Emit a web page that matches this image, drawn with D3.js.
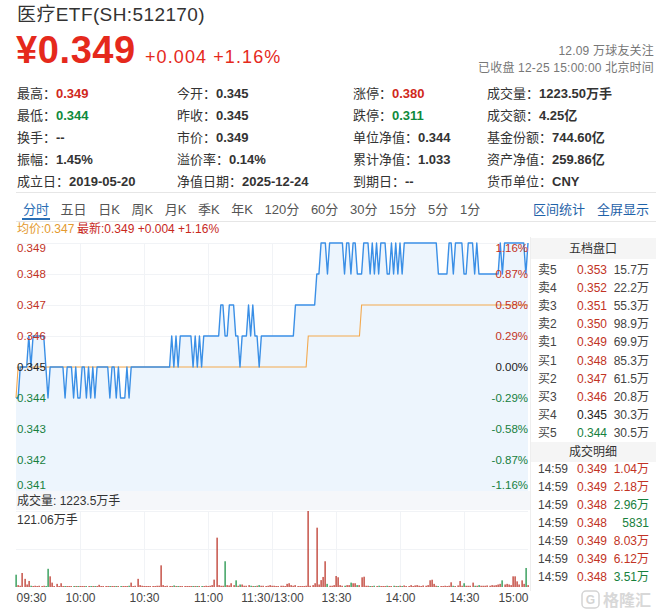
<!DOCTYPE html>
<html><head><meta charset="utf-8">
<script src="https://cdnjs.cloudflare.com/ajax/libs/d3/7.8.5/d3.min.js"></script>
<style>
body{margin:0;background:#fff;}
svg{display:block;font-family:"Liberation Sans","Noto Sans CJK SC",sans-serif;}
</style></head><body><svg id="c" width="656" height="615"></svg>
<script>
// ---------------- DATA ----------------
const prevClose = 0.345;
const prices = [
0.344,0.344,0.345,0.345,0.345,0.345,0.346,0.345,0.346,0.346,
0.346,0.346,0.346,0.346,0.345,0.344,0.345,0.345,0.345,0.345,
0.345,0.345,0.345,0.344,0.345,0.345,0.345,0.344,0.345,0.344,
0.344,0.345,0.345,0.344,0.345,0.344,0.345,0.344,0.345,0.345,
0.345,0.345,0.345,0.345,0.344,0.345,0.345,0.344,0.345,0.344,
0.344,0.344,0.345,0.344,0.345,0.345,0.345,0.345,0.345,0.345,
0.345,0.345,0.345,0.345,0.345,0.345,0.345,0.345,0.345,0.345,
0.345,0.345,0.345,0.346,0.345,0.346,0.345,0.346,0.346,0.346,
0.346,0.346,0.346,0.345,0.346,0.345,0.346,0.345,0.346,0.346,
0.346,0.346,0.346,0.346,0.346,0.346,0.347,0.347,0.346,0.346,
0.347,0.347,0.347,0.346,0.346,0.345,0.346,0.346,0.346,0.347,
0.346,0.347,0.346,0.346,0.345,0.346,0.346,0.346,0.346,0.346,
0.346,0.346,0.346,0.346,0.346,0.346,0.346,0.346,0.346,0.346,
0.346,0.347,0.347,0.347,0.347,0.347,0.347,0.347,0.347,0.347,
0.347,0.348,0.348,0.349,0.349,0.349,0.348,0.349,0.349,0.349,
0.349,0.349,0.349,0.349,0.348,0.349,0.349,0.348,0.349,0.349,
0.348,0.348,0.348,0.349,0.349,0.349,0.348,0.349,0.348,0.349,
0.348,0.349,0.349,0.349,0.348,0.348,0.349,0.348,0.349,0.348,
0.349,0.348,0.349,0.349,0.349,0.349,0.349,0.349,0.349,0.349,
0.349,0.349,0.349,0.349,0.349,0.349,0.349,0.349,0.348,0.348,
0.348,0.348,0.348,0.349,0.349,0.348,0.349,0.349,0.349,0.349,
0.348,0.348,0.349,0.349,0.349,0.348,0.349,0.348,0.348,0.348,
0.348,0.348,0.348,0.348,0.348,0.348,0.348,0.349,0.348,0.349,
0.349,0.349,0.349,0.349,0.349,0.349,0.349,0.349,0.349,0.348,
0.349];
// average price (displayed, rounded) as [minute, value] change points
const avgSteps = [[0,0.344],[1,0.345],[137,0.346],[162,0.347]];
// volume per minute, 万手
const volumes = [
19.6,3,2,22.3,13,4,9.6,2,1.5,2,
1.5,2,1.5,2,1.5,29,17,7,1.5,5,
1.5,6,1.5,1,1,1,1,1,1,1.5,
1,1,1,1,1,1.5,1,1,1,3.5,
1,1,1,1,1,1,1,1,1,1,
1,1,1.5,2,7,1.5,2,13,3,2,
1.5,1.5,1,1,1.5,1.5,2,2,34.5,3,
1.5,2,1.5,1,2.5,1,1,1,1,1,
1,1.5,1,1,1,1,1.5,1,1.5,2,
1.5,2,3,11.7,78.6,3,2,2,41,3,
2.5,6,3,10.6,2,4,4,2,2,3,
2,1.5,1.5,2,3,2,2,1.5,2,3,
2,2,1.5,1.5,2,2,1.5,5,6,3,
2,3,1.5,1.5,1.5,1.5,2,121.06,2,3,
6,94.5,4,11,16,41,5,2,2,3,
17.5,15.5,3,2,2,3,3,7,6,6,
3,3,15.4,16.4,2,2,1.5,1.5,2,1.5,
2,1.5,1.5,1.5,2,1.5,1.5,2,1.5,1.5,
2,1.5,2.5,1.5,1.5,3,1.5,2.5,3,2,
1.5,2.5,2,3,10.7,11.6,5,2,1.5,1.5,
1.5,2,1.5,2,7.5,2,1.5,2.5,9.5,2,
6,2,2,2,7,2,2,3,2,2,
2,2.5,2,3,2.5,3,4,5,10.6,4,
5,4,3,17,17,9,4,10.6,5,30.3,3];
const volMax = 121.06;
const volTotal = "1223.5万手";
const timeTicks = [0,30,60,90,120,150,180,210,240];
const timeLabels = ["09:30","10:00","10:30","11:00","11:30/13:00","13:30","14:00","14:30","15:00"];
const priceTicks = [0.349,0.348,0.347,0.346,0.345,0.344,0.343,0.342,0.341];

const infoLabels = [["最高","今开","涨停","成交量"],["最低","昨收","跌停","成交额"],["换手","市价","单位净值","基金份额"],["振幅","溢价率","累计净值","资产净值"],["成立日","净值日期","到期日","货币单位"]];
const infoValues = [["0.349","0.345","0.380","1223.50万手"],["0.344","0.345","0.311","4.25亿"],["--","0.349","0.344","744.60亿"],["1.45%","0.14%","1.033","259.86亿"],["2019-05-20","2025-12-24","--","CNY"]];
const infoTone = [["up","","up",""],["down","","down",""],["","","",""],["","","",""],["","","",""]];

const tabs = ["分时","五日","日K","周K","月K","季K","年K","120分","60分","30分","15分","5分","1分"];
const tabsRight = ["区间统计","全屏显示"];

const bookLabels = ["卖5","卖4","卖3","卖2","卖1","买1","买2","买3","买4","买5"];
const bookPrices = [0.353,0.352,0.351,0.350,0.349,0.348,0.347,0.346,0.345,0.344];
const bookVols = ["15.7万","22.2万","55.3万","98.9万","69.9万","85.3万","61.5万","20.8万","30.3万","30.5万"];

const tradeTimes = ["14:59","14:59","14:59","14:59","14:59","14:59","14:59"];
const tradePrices = [0.349,0.349,0.348,0.348,0.349,0.349,0.348];
const tradeVols = ["1.04万","2.18万","2.96万","5831","8.03万","6.12万","3.51万"];
const tradeSides = ["B","B","S","S","B","B","S"];

// ---------------- DRAW ----------------
const RED="#d0281c", GREEN="#0f8a3c", DARK="#333";
const svg = d3.select("#c");

// header
svg.append("text").attr("x",17).attr("y",21).attr("font-size",19).attr("letter-spacing",0.4).attr("fill",DARK).text("医疗ETF(SH:512170)");
svg.append("text").attr("x",16).attr("y",63).attr("font-size",38).attr("font-weight","bold").attr("letter-spacing",0.6).attr("fill","#e5291c").text("¥0.349");
svg.append("text").attr("x",145).attr("y",63).attr("font-size",18).attr("fill","#e5291c").attr("letter-spacing",1.1).text("+0.004 +1.16%");
svg.append("text").attr("x",654).attr("y",55).attr("text-anchor","end").attr("font-size",12).attr("letter-spacing",0.2).attr("fill","#777").text("12.09 万球友关注");
svg.append("text").attr("x",654).attr("y",72).attr("text-anchor","end").attr("font-size",12).attr("letter-spacing",0.2).attr("fill","#777").text("已收盘 12-25 15:00:00 北京时间");

// info grid
const colX=[17,177,353,487], rowY=[93,115,137,159,181];
infoLabels.forEach((row,r)=>row.forEach((lab,c)=>{
  const t=svg.append("text").attr("x",colX[c]).attr("y",rowY[r]).attr("dominant-baseline","central").attr("font-size",13);
  t.append("tspan").attr("fill",DARK).text(lab+"：");
  const tone=infoTone[r][c];
  t.append("tspan").attr("font-weight","bold").attr("fill",tone==="up"?RED:tone==="down"?GREEN:DARK).text(infoValues[r][c]);
}));
svg.append("line").attr("x1",16).attr("x2",656).attr("y1",192.5).attr("y2",192.5).attr("stroke","#e6e6e6");

// tabs
let tx=23;
tabs.forEach((t,i)=>{
  const el=svg.append("text").attr("x",tx).attr("y",209).attr("dominant-baseline","central").attr("font-size",13)
    .attr("fill",i===0?"#2a6fb5":"#555").text(t);
  const w=el.node().getComputedTextLength();
  if(i===0) svg.append("rect").attr("x",tx-1).attr("y",218).attr("width",w+2).attr("height",2).attr("fill","#2a6fb5");
  tx+=w+11.6;
});
let rx=533;
tabsRight.forEach(t=>{
  const el=svg.append("text").attr("x",rx).attr("y",209).attr("dominant-baseline","central").attr("font-size",13).attr("fill","#1f62a8").text(t);
  rx+=el.node().getComputedTextLength()+12;
});
svg.append("line").attr("x1",16).attr("x2",656).attr("y1",221.5).attr("y2",221.5).attr("stroke","#e6e6e6");

// legend
const avgNow = avgSteps[avgSteps.length-1][1];
const last = prices[prices.length-1];
svg.append("text").attr("x",17).attr("y",229).attr("dominant-baseline","central").attr("font-size",12).attr("fill","#e49a2e").text("均价:"+avgNow.toFixed(3));
svg.append("text").attr("x",77).attr("y",229).attr("dominant-baseline","central").attr("font-size",12).attr("fill","#c8281c")
  .text("最新:"+last.toFixed(3)+" +"+(last-prevClose).toFixed(3)+" +"+((last/prevClose-1)*100).toFixed(2)+"%");

// scales
const x = d3.scaleLinear().domain([0,240]).range([16,528]);
const y = d3.scaleLinear().domain([0.341,0.349]).range([491,243]);
const yv = d3.scaleLinear().domain([0,volMax]).range([587,511]);

// grid
const g=svg.append("g").attr("stroke","#f1f3f6").attr("shape-rendering","crispEdges");
priceTicks.forEach(p=>g.append("line").attr("x1",16).attr("x2",528).attr("y1",Math.round(y(p))+0.5).attr("y2",Math.round(y(p))+0.5));
timeTicks.slice(1,-1).forEach(t=>{
  g.append("line").attr("x1",Math.round(x(t))+0.5).attr("x2",Math.round(x(t))+0.5).attr("y1",243).attr("y2",491);
  g.append("line").attr("x1",Math.round(x(t))+0.5).attr("x2",Math.round(x(t))+0.5).attr("y1",511).attr("y2",587);
});
[511,549].forEach(v=>g.append("line").attr("x1",16).attr("x2",528).attr("y1",v+0.5).attr("y2",v+0.5));

// area + lines
svg.append("path").datum(prices).attr("fill","#edf5fd")
  .attr("d",d3.area().x((d,i)=>x(i)).y0(491).y1(d=>y(d)));
const avg = prices.map((d,i)=>{let v=avgSteps[0][1]; avgSteps.forEach(s=>{if(s[0]<=i) v=s[1];}); return v;});
svg.append("path").datum(avg).attr("fill","none").attr("stroke","#f3a94f").attr("stroke-width",1.1)
  .attr("d",d3.line().x((d,i)=>x(i)).y(d=>y(d)));
svg.append("path").datum(prices).attr("fill","none").attr("stroke","#3a8fe6").attr("stroke-width",1.4).attr("stroke-linejoin","round")
  .attr("d",d3.line().x((d,i)=>x(i)).y(d=>y(d)));

// y labels
const tone = p => p>prevClose+1e-9?"#c23324":(p<prevClose-1e-9?"#17803d":"#222");
const off = (i)=> i===0?5:(i===priceTicks.length-1?-6:0);
priceTicks.forEach((p,i)=>{
  svg.append("text").attr("x",17).attr("y",y(p)+off(i)).attr("dominant-baseline","central").attr("font-size",11.5).attr("fill",tone(p)).text(p.toFixed(3));
  const pct=(p/prevClose-1)*100;
  svg.append("text").attr("x",528).attr("y",y(p)+off(i)).attr("text-anchor","end").attr("dominant-baseline","central").attr("font-size",11.5).attr("fill",tone(p))
    .text((Math.abs(pct)<1e-9?"0.00":pct.toFixed(2))+"%");
});

// volume section
svg.append("rect").attr("x",16).attr("y",491).attr("width",514).attr("height",19).attr("fill","#f5f7fa");
svg.append("text").attr("x",17).attr("y",501).attr("dominant-baseline","central").attr("font-size",12).attr("fill",DARK).text("成交量: "+volTotal);
svg.append("text").attr("x",17).attr("y",520).attr("dominant-baseline","central").attr("font-size",12).attr("fill",DARK).text(volMax.toFixed(2)+"万手");
svg.append("g").selectAll("rect").data(volumes).join("rect")
  .attr("x",(d,i)=>Math.round(x(i))-0.5).attr("width",1.2)
  .attr("y",d=>Math.min(yv(d),586)).attr("height",d=>Math.max(1,587-yv(d)))
  .attr("fill",(d,i)=>{const prev=i===0?prevClose:prices[i-1]; return prices[i]<prev-1e-9?"#0d8a3a":"#b8281c";});

// time axis
const ax = svg.append("g").attr("transform","translate(0,588)")
  .call(d3.axisBottom(x).tickValues(timeTicks).tickSize(0).tickFormat((d,i)=>timeLabels[i]));
ax.select(".domain").remove();
ax.selectAll("text").attr("font-size",12).attr("fill","#444").attr("font-family","Liberation Sans, sans-serif").attr("dy","0.9em")
  .attr("text-anchor",(d,i)=>i===0?"start":(i===timeTicks.length-1?"end":"middle"));

// right panel
svg.append("line").attr("x1",530.5).attr("x2",530.5).attr("y1",237).attr("y2",591).attr("stroke","#eee");
svg.append("rect").attr("x",531).attr("y",238).attr("width",125).attr("height",21).attr("fill","#f5f5f5");
svg.append("text").attr("x",593).attr("y",248.5).attr("text-anchor","middle").attr("dominant-baseline","central").attr("font-size",12).attr("fill",DARK).text("五档盘口");
bookLabels.forEach((l,i)=>{
  const yy=270+i*18.1;
  const p=bookPrices[i];
  svg.append("text").attr("x",538).attr("y",yy).attr("dominant-baseline","central").attr("font-size",12).attr("fill","#444").text(l);
  svg.append("text").attr("x",607).attr("y",yy).attr("text-anchor","end").attr("dominant-baseline","central").attr("font-size",12).attr("fill",tone(p)).text(p.toFixed(3));
  svg.append("text").attr("x",649).attr("y",yy).attr("text-anchor","end").attr("dominant-baseline","central").attr("font-size",12).attr("fill","#444").text(bookVols[i]);
});
svg.append("rect").attr("x",531).attr("y",442).attr("width",125).attr("height",20).attr("fill","#f5f5f5");
svg.append("text").attr("x",593).attr("y",452).attr("text-anchor","middle").attr("dominant-baseline","central").attr("font-size",12).attr("fill",DARK).text("成交明细");
tradeTimes.forEach((t,i)=>{
  const yy=469+i*18;
  svg.append("text").attr("x",538).attr("y",yy).attr("dominant-baseline","central").attr("font-size",12).attr("fill","#444").text(t);
  svg.append("text").attr("x",607).attr("y",yy).attr("text-anchor","end").attr("dominant-baseline","central").attr("font-size",12).attr("fill",tone(tradePrices[i])).text(tradePrices[i].toFixed(3));
  svg.append("text").attr("x",649).attr("y",yy).attr("text-anchor","end").attr("dominant-baseline","central").attr("font-size",12).attr("fill",tradeSides[i]==="B"?"#c23324":"#17803d").text(tradeVols[i]);
});

// watermark
svg.append("rect").attr("x",582).attr("y",591).attr("width",17).attr("height",17).attr("rx",4).attr("fill","none").attr("stroke","#d4d4d4").attr("stroke-width",1.5);
svg.append("text").attr("x",590.5).attr("y",600).attr("text-anchor","middle").attr("dominant-baseline","central").attr("font-size",12).attr("font-weight","bold").attr("fill","#d4d4d4").text("G");
svg.append("text").attr("x",603).attr("y",600).attr("dominant-baseline","central").attr("font-size",16).attr("font-weight","bold").attr("fill","#d8d8d8").text("格隆汇");
</script></body></html>
